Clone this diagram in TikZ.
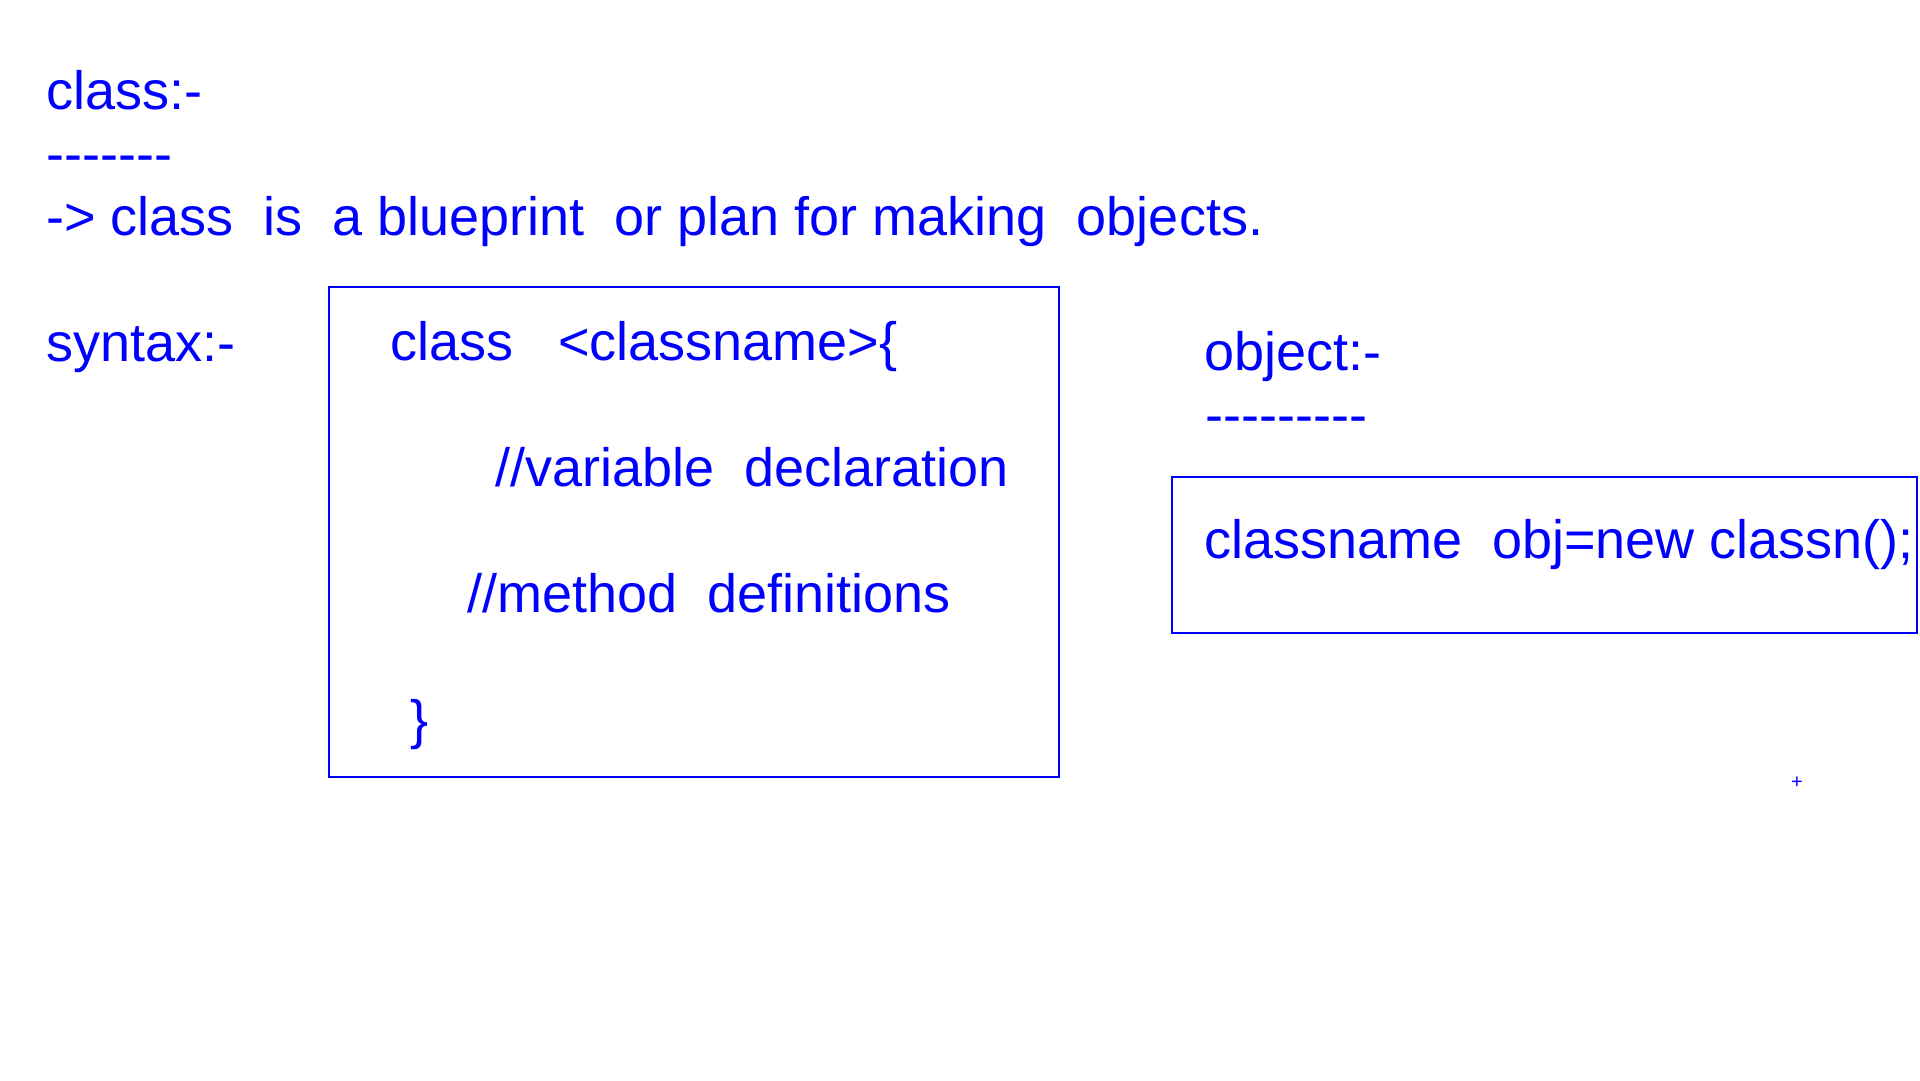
\documentclass[tikz,border=0pt]{standalone}
\usepackage{fontspec}
\setmainfont{Liberation Sans}
\usetikzlibrary{positioning}
\newcommand{\dashrow}[1]
{   \foreach \k in {1,...,#1}{-\kern0pt}%
}
\newcommand{\inkcolor}{blue}

\begin{document}
\begin{tikzpicture}[x=1pt,y=-1pt,
  txt/.style={anchor=base west,inner sep=0pt,text=\inkcolor,
    font=\fontsize{54}{64}\selectfont},
  frame/.style={draw=\inkcolor,line width=2pt}]

 \useasboundingbox (0,0) rectangle (1920,1080);

 % class definition
   \node[txt] (classhead) at (46,109) {class:-};
   \node[txt] (classline) at (46,172) {\dashrow{7}};
   \node[txt] (classdef) at (46,235) {-> class\ \ is\ \ a blueprint\ \ or plan for making\ \ objects.};

 % syntax box
   \node[txt] (syntax) at (46,361) {syntax:-};
   \draw[frame] (329,287) rectangle (1059,777);
   \node[txt] (synA) at (390,360) {class\ \ \ <classname>\{};
   \node[txt] (synB) at (495,486) {//variable\ \ declaration};
   \node[txt] (synC) at (467,612) {//method\ \ definitions};
   \node[txt] (synD) at (410,738) {\}};

 % object box
   \node[txt] (objhead) at (1204,370) {object:-};
   \node[txt] (objline) at (1205,433) {\dashrow{9}};
   \draw[frame] (1172,477) rectangle (1917,633);
   \node[txt] (objnew) at (1204,558) {classname\ \ obj=new classn();};

   \node[inner sep=0pt,text=\inkcolor,font=\fontsize{20}{20}\selectfont] (mark) at (1797,783) {+};

\end{tikzpicture}
\end{document}
